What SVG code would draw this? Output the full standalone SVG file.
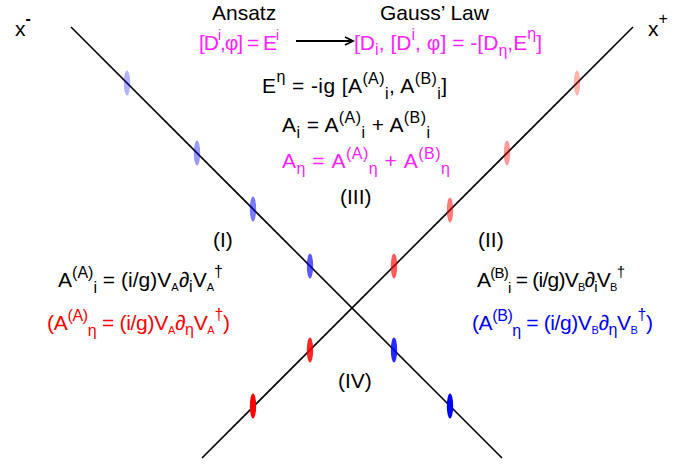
<svg xmlns="http://www.w3.org/2000/svg" width="696" height="465" viewBox="0 0 696 465">
<style>
text{font-family:"Liberation Sans",Arial,sans-serif;font-size:21px;fill:#000}
.m{fill:#ff22ff}
.r{fill:#ff0000}
.b{fill:#0000ff}
.s{font-size:16px}
.t{font-size:11px}
.ln{stroke:#000;stroke-width:1.6;fill:none}
</style>
<defs>
<marker id="ah" markerWidth="12" markerHeight="10" refX="9" refY="5" orient="auto" markerUnits="userSpaceOnUse">
<path d="M1,1 L9,5 L1,9" fill="none" stroke="#000" stroke-width="1.8"/>
</marker>
</defs>
<g id="lightcone">
<line class="ln" x1="71" y1="27" x2="502" y2="458"/>
<line class="ln" x1="633" y1="27" x2="202" y2="458"/>
</g>
<g id="blue-nucleus">
<ellipse cx="127" cy="83" rx="3.2" ry="12.5" fill="#0000ff" fill-opacity="0.3"/>
<ellipse cx="197" cy="153" rx="3.2" ry="12.5" fill="#0000ff" fill-opacity="0.4"/>
<ellipse cx="253" cy="209" rx="3.2" ry="12.5" fill="#0000ff" fill-opacity="0.52"/>
<ellipse cx="310" cy="266" rx="3.2" ry="12.5" fill="#0000ff" fill-opacity="0.65"/>
<ellipse cx="394" cy="350" rx="3.2" ry="12.5" fill="#0000ff" fill-opacity="0.85"/>
<ellipse cx="450" cy="406" rx="3.2" ry="12.5" fill="#0000ff"/>
</g>
<g id="red-nucleus">
<ellipse cx="577" cy="83" rx="3.2" ry="12.5" fill="#ff0000" fill-opacity="0.3"/>
<ellipse cx="507" cy="153" rx="3.2" ry="12.5" fill="#ff0000" fill-opacity="0.4"/>
<ellipse cx="450" cy="210" rx="3.2" ry="12.5" fill="#ff0000" fill-opacity="0.52"/>
<ellipse cx="394" cy="266" rx="3.2" ry="12.5" fill="#ff0000" fill-opacity="0.65"/>
<ellipse cx="310" cy="350" rx="3.2" ry="12.5" fill="#ff0000" fill-opacity="0.85"/>
<ellipse cx="253" cy="406" rx="3.2" ry="12.5" fill="#ff0000"/>
</g>
<g id="axes-labels">
<text x="15" y="36">x<tspan class="s" dy="-12" font-weight="bold">-</tspan></text>
<text x="648" y="36">x<tspan class="s" dy="-12">+</tspan></text>
</g>
<g id="connectors">
<line x1="296" y1="41" x2="353" y2="41" stroke="#000" stroke-width="1.8" marker-end="url(#ah)"/>
</g>
<g id="ansatz">
<text x="212" y="20">Ansatz</text>
<text class="m" x="199" y="50" font-size="20" textLength="80" lengthAdjust="spacing">[D<tspan font-size="14" dy="-10">i</tspan><tspan dy="10">,φ] = E</tspan><tspan font-size="14" dy="-10">i</tspan></text>
</g>
<g id="gauss">
<text x="380" y="20">Gauss’ Law</text>
<text class="m" x="354" y="50" textLength="188" lengthAdjust="spacing">[D<tspan class="s" dy="5">i</tspan><tspan dy="-5">, [D</tspan><tspan class="s" dy="-10">i</tspan><tspan dy="10">, φ] = -[D</tspan><tspan class="s" dy="6">η</tspan><tspan dy="-6">,E</tspan><tspan class="s" dy="-11">η</tspan><tspan dy="11">]</tspan></text>
</g>
<g id="region-III">
<text x="262" y="93" textLength="185" lengthAdjust="spacing">E<tspan class="s" dy="-11">η</tspan><tspan dy="11"> = -ig [A</tspan><tspan class="s" dy="-9">(A)</tspan><tspan class="s" dy="15">i</tspan><tspan dy="-6">, A</tspan><tspan class="s" dy="-9">(B)</tspan><tspan class="s" dy="15">i</tspan><tspan dy="-6">]</tspan></text>
<text x="282" y="132" textLength="148" lengthAdjust="spacing">A<tspan class="s" dy="6">i</tspan><tspan dy="-6"> = A</tspan><tspan class="s" dy="-9">(A)</tspan><tspan class="s" dy="15">i</tspan><tspan dy="-6"> + A</tspan><tspan class="s" dy="-9">(B)</tspan><tspan class="s" dy="15">i</tspan></text>
<text class="m" x="282" y="168" textLength="168" lengthAdjust="spacing">A<tspan class="s" dy="6">η</tspan><tspan dy="-6"> = A</tspan><tspan class="s" dy="-9">(A)</tspan><tspan class="s" dy="15">η</tspan><tspan dy="-6"> + A</tspan><tspan class="s" dy="-9">(B)</tspan><tspan class="s" dy="15">η</tspan></text>
<text x="340" y="204">(III)</text>
</g>
<g id="region-I">
<text x="213" y="247">(I)</text>
<text x="58" y="287" textLength="165" lengthAdjust="spacing">A<tspan class="s" dy="-9">(A)</tspan><tspan class="s" dy="15">i</tspan><tspan dy="-6"> = (i/g)V</tspan><tspan class="t" dy="4">A</tspan><tspan dy="-4">∂</tspan><tspan class="s" dy="5">i</tspan><tspan dy="-5">V</tspan><tspan class="t" dy="4">A</tspan><tspan class="s" dy="-14">†</tspan></text>
<text class="r" x="47" y="330" textLength="183" lengthAdjust="spacing">(A<tspan class="s" dy="-9">(A)</tspan><tspan class="s" dy="15">η</tspan><tspan dy="-6"> = (i/g)V</tspan><tspan class="t" dy="4">A</tspan><tspan dy="-4">∂</tspan><tspan class="s" dy="5">η</tspan><tspan dy="-5">V</tspan><tspan class="t" dy="4">A</tspan><tspan class="s" dy="-14">†</tspan><tspan dy="10">)</tspan></text>
</g>
<g id="region-II">
<text x="478" y="247">(II)</text>
<text x="477" y="287" font-size="20" textLength="148" lengthAdjust="spacing">A<tspan font-size="15" dy="-9">(B)</tspan><tspan font-size="15" dy="15">i</tspan><tspan dy="-6"> = (i/g)V</tspan><tspan class="t" dy="4">B</tspan><tspan dy="-4">∂</tspan><tspan font-size="15" dy="5">i</tspan><tspan dy="-5">V</tspan><tspan class="t" dy="4">B</tspan><tspan font-size="15" dy="-14">†</tspan></text>
<text class="b" x="472" y="330" textLength="181" lengthAdjust="spacing">(A<tspan class="s" dy="-9">(B)</tspan><tspan class="s" dy="15">η</tspan><tspan dy="-6"> = (i/g)V</tspan><tspan class="t" dy="4">B</tspan><tspan dy="-4">∂</tspan><tspan class="s" dy="5">η</tspan><tspan dy="-5">V</tspan><tspan class="t" dy="4">B</tspan><tspan class="s" dy="-14">†</tspan><tspan dy="10">)</tspan></text>
</g>
<g id="region-IV">
<text x="338" y="388">(IV)</text>
</g>
</svg>
